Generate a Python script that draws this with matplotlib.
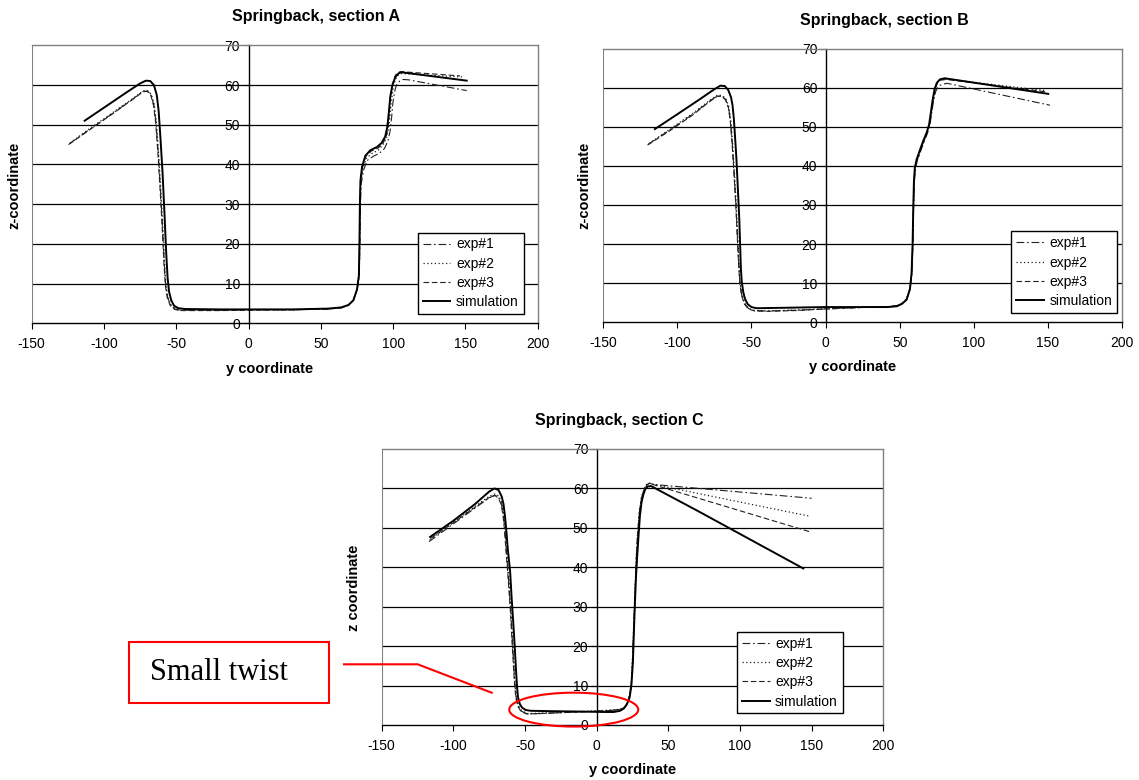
import matplotlib.pyplot as plt
from matplotlib.patches import Ellipse, Rectangle
from matplotlib.lines import Line2D

plt.rcParams['font.family'] = ['Liberation Sans', 'DejaVu Sans']
plt.rcParams['axes.unicode_minus'] = False

# ---- section A ----
a_sim_y = [-113.4, -100, -85, -75, -71, -68, -65.5, -63.5, -62.2, -61, -59.5, -58.2, -57, -56, -55, -53.5,
           -51.5, -48.5, -44, -20, 0, 30, 55, 64, 69, 72.5, 75, 76.3, 76.7, 77.0, 77.4, 78.5, 80.8, 84.3,
           88.9, 92, 94.5, 96, 97, 98, 99.5, 101.5, 104, 106, 150.9]
a_sim_z = [51.0, 54.3, 58.0, 60.4, 61.1, 61.0, 60.0, 57.5, 53.5, 47, 38, 28, 18, 11.5, 8, 5.8,
           4.4, 3.8, 3.6, 3.5, 3.5, 3.5, 3.7, 4.0, 4.6, 5.8, 8.5, 12, 20, 30, 36, 39.4, 42.2, 43.6,
           44.4, 45.4, 47, 49.5, 53, 57, 60, 62, 63, 63.2, 61.1]
a_exp1_y = [-124, -110, -95, -80, -73, -70, -67.5, -65.5, -64, -62.5, -61, -59.5, -58.3, -57.3, -56, -54,
            -51, -47, -20, 0, 30, 55, 64, 69, 72.5, 75.2, 76.6, 77, 77.4, 77.9, 79.5, 82, 86.5, 90.5,
            94, 96.5, 98, 99, 99.8, 101, 102.3, 104.5, 107, 110.7, 150.9]
a_exp1_z = [45.2, 48.8, 52.6, 56.5, 58.4, 58.5, 57.6, 55, 50.5, 43, 34, 24, 15, 9.5, 6.5, 4.6,
            3.6, 3.3, 3.3, 3.4, 3.4, 3.6, 3.9, 4.5, 5.8, 8.5, 12, 20, 30, 35, 38.5, 41, 42.1, 42.8,
            44, 46, 48.6, 52, 55.4, 58.3, 60, 61, 61.4, 61.3, 58.6]
a_exp2_y = [-123.5, -110, -95, -80, -73, -70, -67.3, -65.3, -63.8, -62.3, -60.8, -59.3, -58.1, -57.1, -55.8, -53.8,
            -50.8, -47, -20, 0, 30, 55, 64, 69, 72.5, 75.1, 76.5, 76.9, 77.2, 77.6, 79, 81.5, 85.5, 89.8,
            93, 95.5, 97, 98, 98.8, 100.2, 101.7, 103.5, 106, 109, 148.5]
a_exp2_z = [45.4, 49.0, 52.8, 56.6, 58.5, 58.6, 57.7, 55.2, 50.7, 43.2, 34.2, 24.2, 15.2, 9.6, 6.6, 4.7,
            3.7, 3.3, 3.3, 3.4, 3.4, 3.6, 3.9, 4.5, 5.8, 8.5, 12, 20, 30, 35.5, 39, 41.6, 42.8, 43.6,
            45, 46.8, 49.2, 52.8, 56, 59.5, 61.5, 62.5, 62.9, 62.8, 62.0]
a_exp3_y = [-124.5, -110, -95, -80, -73, -70, -67.7, -65.7, -64.2, -62.7, -61.2, -59.7, -58.5, -57.5, -56.2, -54.2,
            -51.2, -47, -20, 0, 30, 55, 64, 69, 72.5, 75.1, 76.5, 76.8, 77.1, 77.5, 78.8, 81, 85, 89.5,
            92.8, 95.2, 96.6, 97.5, 98.4, 99.8, 101.5, 103.5, 105.5, 108, 146.3]
a_exp3_z = [45.0, 48.7, 52.5, 56.4, 58.3, 58.4, 57.5, 54.8, 50.3, 42.8, 33.8, 23.8, 14.8, 9.4, 6.4, 4.5,
            3.5, 3.2, 3.2, 3.3, 3.4, 3.6, 3.9, 4.5, 5.8, 8.5, 12, 20, 30, 35.8, 39.2, 42, 43.4, 44.1,
            45.2, 47, 49.8, 53.5, 57.5, 60.5, 62.4, 63.2, 63.4, 63.3, 62.3]

# ---- section B ----
b_sim_y = [-115.2, -100, -85, -75, -71, -68, -65.7, -63.8, -62.8, -61.9, -61.2, -60.2, -59.3, -58.3, -57.6, -57.2,
           -56.6, -55.6, -54.4, -52.5, -50, -46.6, -30, 0, 25, 42, 48, 51.5, 54.7, 56.9, 58, 58.7, 59.2,
           59.6, 60.2, 61.4, 63.6, 65.9, 68.2, 69.8, 70.8, 72.2, 73.5, 75, 77.1, 80.5, 82, 150.2]
b_sim_z = [49.4, 53.2, 57.0, 59.6, 60.5, 60.4, 59.4, 57.5, 55.5, 52, 48, 42, 35, 27, 19, 14,
           10.5, 7.8, 6.0, 4.6, 3.9, 3.6, 3.7, 3.9, 3.9, 3.9, 4.1, 4.7, 5.8, 8.5, 12.5, 20, 30,
           36, 39.5, 41.6, 44, 46.4, 48.5, 50.5, 53, 56.8, 59.5, 61.2, 62.1, 62.4, 62.3, 58.4]
b_exp1_y = [-119.7, -105, -90, -78, -73, -70, -67.5, -65.5, -64.2, -63, -61.7, -60.5, -59.5, -58.6, -57.8, -56.6,
            -54.8, -52, -48, -40, -20, 0, 25, 42, 48, 51.5, 54.7, 57, 58.2, 58.9, 59.4, 59.9, 60.5,
            61.8, 64, 66.3, 68.6, 70.3, 71.4, 72.8, 74.3, 76, 78.3, 82, 151.4]
b_exp1_z = [45.5, 49.2, 53.1, 56.6, 57.9, 57.8, 57.0, 55, 51.5, 46, 38, 30, 22, 15, 10, 7,
            4.8, 3.5, 3.0, 2.9, 3.1, 3.4, 3.8, 4.0, 4.2, 4.8, 6.0, 8.5, 12.5, 20, 30, 36, 39,
            41.2, 43.6, 46, 48.2, 50.3, 53, 56.5, 59, 60.3, 60.8, 61.1, 55.5]
b_exp2_y = [-119.2, -105, -90, -78, -73, -70, -67.3, -65.3, -64, -62.8, -61.5, -60.3, -59.3, -58.4, -57.6, -56.4,
            -54.6, -51.8, -48, -40, -20, 0, 25, 42, 48, 51.5, 54.7, 56.9, 58.1, 58.8, 59.3, 59.7, 60.3,
            61.6, 63.8, 66, 68.4, 70, 71, 72.4, 73.8, 75.3, 77.5, 81, 149.1]
b_exp2_z = [45.7, 49.4, 53.3, 56.8, 58.1, 58.0, 57.2, 55.2, 51.7, 46.2, 38.2, 30.2, 22.2, 15.2, 10.2, 7.1,
            4.9, 3.5, 3.0, 2.9, 3.1, 3.5, 3.8, 4.0, 4.2, 4.8, 6.0, 8.5, 12.5, 20, 30, 36, 39.3,
            41.5, 43.9, 46.3, 48.5, 50.5, 53.3, 57, 60, 61.4, 62, 62.2, 59.2]
b_exp3_y = [-120.2, -105, -90, -78, -73, -70, -67.6, -65.6, -64.3, -63.1, -61.8, -60.6, -59.6, -58.7, -57.9, -56.7,
            -54.9, -52.1, -48, -40, -20, 0, 25, 42, 48, 51.5, 54.7, 56.9, 58.1, 58.8, 59.3, 59.8, 60.4,
            61.7, 63.9, 66.2, 68.5, 70.1, 71.2, 72.6, 74, 75.6, 77.8, 81.5, 149.1]
b_exp3_z = [45.3, 49.0, 52.9, 56.5, 57.8, 57.7, 56.9, 54.9, 51.3, 45.8, 37.8, 29.8, 21.8, 14.8, 9.8, 6.9,
            4.7, 3.4, 2.9, 2.8, 3.0, 3.4, 3.8, 4.0, 4.2, 4.8, 6.0, 8.5, 12.5, 20, 30, 36, 39.2,
            41.4, 43.8, 46.2, 48.4, 50.4, 53.2, 56.8, 59.8, 61.3, 61.9, 62.1, 58.9]

# ---- section C ----
c_sim_y = [-116.2, -100, -85, -75, -71.3, -68.5, -66.3, -65, -64, -63.2, -62, -60.4, -59.3, -58.2, -57.2, -56.3,
           -55.6, -55, -53.6, -52, -49.5, -46, -30, -10, 5, 12, 16.3, 19, 21, 23, 24.2, 25.3, 26,
           26.7, 27.5, 28.4, 29.3, 30.2, 31.3, 32.6, 34, 35.6, 38, 40, 70, 144.2]
c_sim_z = [47.7, 51.8, 56.0, 59.2, 60.0, 59.6, 58.0, 56, 53, 50, 44.5, 39, 32, 26, 20, 14,
           10, 7.2, 5.3, 4.4, 3.8, 3.6, 3.5, 3.4, 3.3, 3.3, 3.6, 4.2, 5.2, 7, 10, 16, 24,
           31, 38, 43.5, 48.5, 53.2, 56.5, 58.5, 59.9, 60.5, 60.6, 60.2, 54.4, 39.7]
c_exp1_y = [-117, -100, -85, -75, -71, -68.5, -66.5, -65.2, -64.2, -63, -61.5, -60, -58.8, -57.7, -57, -56.2,
            -54.8, -52.5, -48.5, -40, -20, 0, 10, 16, 19.5, 21.5, 23.2, 24.3, 25.2, 26, 26.8, 27.6,
            28.6, 29.8, 31.3, 33.2, 35, 36.7, 40, 150]
c_exp1_z = [46.5, 51.0, 55.0, 57.6, 58.3, 57.8, 56.2, 53.5, 50, 44, 37, 29, 21, 14, 10, 7,
            4.8, 3.5, 2.8, 2.9, 3.2, 3.5, 3.7, 3.9, 4.5, 5.6, 7.8, 11, 18, 26, 34, 42,
            48.5, 54, 57.6, 59.8, 60.9, 61.3, 61.0, 57.5]
c_exp2_y = [-116.5, -100, -85, -75, -71, -68.3, -66.3, -65, -64, -62.8, -61.3, -59.8, -58.6, -57.5, -56.8, -56,
            -54.6, -52.3, -48.3, -40, -20, 0, 10, 16, 19.4, 21.4, 23.1, 24.2, 25.1, 25.9, 26.7, 27.5,
            28.5, 29.7, 31.2, 33, 34.8, 36.5, 40, 148]
c_exp2_z = [47.0, 51.4, 55.4, 58.0, 58.6, 58.1, 56.5, 53.8, 50.3, 44.3, 37.3, 29.3, 21.3, 14.3, 10.3, 7.2,
            4.9, 3.6, 2.9, 3.0, 3.3, 3.6, 3.8, 4.0, 4.6, 5.7, 7.9, 11, 18, 26, 34, 42,
            48.5, 54, 57.7, 59.9, 61.0, 61.4, 61.0, 53.0]
c_exp3_y = [-115.8, -100, -85, -75, -71, -68.7, -66.7, -65.4, -64.4, -63.2, -61.7, -60.2, -59, -57.9, -57.2, -56.4,
            -55, -52.7, -48.7, -40, -20, 0, 10, 16, 19.6, 21.6, 23.3, 24.4, 25.3, 26.1, 26.9, 27.7,
            28.7, 29.9, 31.4, 33.3, 35.1, 36.8, 40, 148.8]
c_exp3_z = [47.3, 51.3, 55.2, 57.7, 58.2, 57.6, 56.0, 53.3, 49.8, 43.8, 36.8, 28.8, 20.8, 13.8, 9.8, 6.9,
            4.7, 3.4, 2.8, 2.9, 3.2, 3.5, 3.7, 3.9, 4.5, 5.6, 7.8, 11, 18, 26, 34, 42,
            48.5, 54, 57.6, 59.8, 60.9, 61.3, 60.9, 49.0]

series_labels = ['exp#1', 'exp#2', 'exp#3', 'simulation']
x_ticks = [-150, -100, -50, 0, 50, 100, 150, 200]
z_ticks = [0, 10, 20, 30, 40, 50, 60, 70]

twist_center = (-16, 3.9)
twist_size = (90, 8.6)

W, H = 1139, 780
fig = plt.figure(figsize=(W / 100, H / 100), dpi=100)

styles = [dict(ls=(0, (7, 2.5, 1.5, 2.5)), lw=0.8, color='#222222'),
          dict(ls=(0, (1, 2)), lw=0.9, color='#222222'),
          dict(ls=(0, (5, 2.5)), lw=0.8, color='#222222'),
          dict(ls='-', lw=1.4, color='black')]


def px_axes(left, top, right, bottom):
    return fig.add_axes([left / W, 1 - bottom / H, (right - left) / W, (bottom - top) / H])


def draw_panel(ax, curves, legend_anchor):
    for (yy, zz), lab, st in zip(curves, series_labels, styles):
        ax.plot(yy, zz, label=lab, **st)
    ax.set_xlim(x_ticks[0], x_ticks[-1])
    ax.set_ylim(z_ticks[0], z_ticks[-1])
    ax.set_xticks(x_ticks)
    ax.set_yticks(z_ticks)
    ax.spines['left'].set_position(('data', 0))
    ax.spines['left'].set_color('black')
    ax.spines['bottom'].set_color('black')
    ax.spines['left'].set_linewidth(1.0)
    ax.spines['bottom'].set_linewidth(1.0)
    for s in ['top', 'right']:
        ax.spines[s].set_color('#808080')
        ax.spines[s].set_linewidth(1.0)
    ax.axvline(x_ticks[0], color='#808080', lw=1.5)
    ax.yaxis.grid(True, color='black', lw=0.9)
    gl = ax.get_ygridlines()
    gl[0].set_visible(False)
    gl[-1].set_visible(False)
    ax.set_axisbelow(True)
    ax.tick_params(axis='both', direction='out', length=4, width=0.8, labelsize=10, colors='black')
    ax.tick_params(axis='x', pad=6)
    ax.tick_params(axis='y', pad=2)
    leg = ax.legend(loc='lower right', bbox_to_anchor=legend_anchor, fontsize=10, frameon=True,
                    fancybox=False, edgecolor='black', framealpha=1, handlelength=2.0,
                    labelspacing=0.38, borderpad=0.35, handletextpad=0.4, borderaxespad=0)
    leg.get_frame().set_linewidth(1.0)


axA = px_axes(31.7, 45.3, 537.7, 323.3)
draw_panel(axA, [(a_exp1_y, a_exp1_z), (a_exp2_y, a_exp2_z), (a_exp3_y, a_exp3_z), (a_sim_y, a_sim_z)],
           (0.972, 0.033))
axB = px_axes(603.3, 48.5, 1122, 322.3)
draw_panel(axB, [(b_exp1_y, b_exp1_z), (b_exp2_y, b_exp2_z), (b_exp3_y, b_exp3_z), (b_sim_y, b_sim_z)],
           (0.99, 0.034))
axC = px_axes(381.7, 449, 883.3, 725)
draw_panel(axC, [(c_exp1_y, c_exp1_z), (c_exp2_y, c_exp2_z), (c_exp3_y, c_exp3_z), (c_sim_y, c_sim_z)],
           (0.919, 0.042))


def ftext(x, y, s, **kw):
    fig.text(x / W, 1 - y / H, s, ha='center', va='center', **kw)


ftext(316, 16, 'Springback, section A', fontsize=11.5, fontweight='bold')
ftext(884, 20, 'Springback, section B', fontsize=11.5, fontweight='bold')
ftext(619, 420, 'Springback, section C', fontsize=11.5, fontweight='bold')
ftext(270, 369, 'y coordinate', fontsize=10.5, fontweight='bold')
ftext(853, 367, 'y coordinate', fontsize=10.5, fontweight='bold')
ftext(633, 770, 'y coordinate', fontsize=10.5, fontweight='bold')
ftext(14.5, 185, 'z-coordinate', fontsize=10.5, fontweight='bold', rotation=90)
ftext(584, 185, 'z-coordinate', fontsize=10.5, fontweight='bold', rotation=90)
ftext(353.5, 588, 'z coordinate', fontsize=10.5, fontweight='bold', rotation=90)

# small twist annotation
axC.add_patch(Ellipse(twist_center, twist_size[0], twist_size[1], fill=False, ec='red', lw=1.5,
                      clip_on=False, zorder=5))
fig.add_artist(Rectangle((129.3 / W, 1 - 702.7 / H), 200 / W, 61 / H, transform=fig.transFigure,
                         fill=False, ec='red', lw=1.5))
fig.text(150 / W, 1 - 672 / H, 'Small twist', ha='left', va='center', fontsize=22,
         family=['Liberation Serif', 'DejaVu Serif'])
fig.add_artist(Line2D([344 / W, 417.7 / W, 491.7 / W], [1 - 664.3 / H, 1 - 664.3 / H, 1 - 692.7 / H],
                      transform=fig.transFigure, color='red', lw=1.5))

fig.savefig('out.png', dpi=100)
